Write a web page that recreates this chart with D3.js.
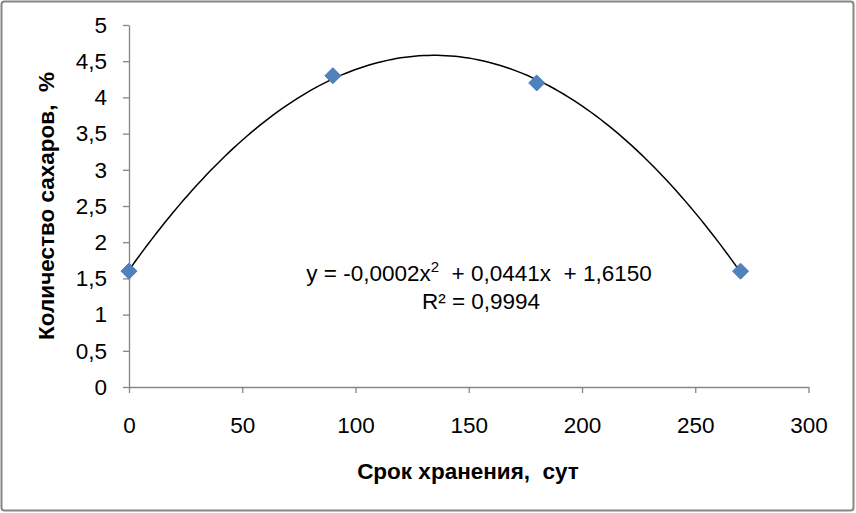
<!DOCTYPE html>
<html>
<head>
<meta charset="utf-8">
<script src="https://cdn.jsdelivr.net/npm/d3@7"></script>
<style>
  body { margin: 0; background: #fff; }
  svg { display: block; font-family: "Liberation Sans", Arial, sans-serif; }
</style>
</head>
<body>
<svg id="chart" width="856" height="513"></svg>
<script>
// storage time, days
var days = [0, 90, 180, 270];
// sugar content, %
var sugars = [1.6, 4.3, 4.2, 1.6];
var xTicks = [0, 50, 100, 150, 200, 250, 300];
var yTicks = [0, 0.5, 1, 1.5, 2, 2.5, 3, 3.5, 4, 4.5, 5];
var eqText = ["y = -0,0002x", "2", "  + 0,0441x  + 1,6150"];
var r2Text = "R\u00b2 = 0,9994";

var svg = d3.select("#chart");
var fmt = function(d) { return String(d).replace(".", ","); };

var x = d3.scaleLinear().domain([0, 300]).range([129, 808.5]);
var y = d3.scaleLinear().domain([0, 5]).range([387, 25]);

// outer frame
svg.append("rect").attr("x", 1.5).attr("y", 1.5).attr("width", 852).attr("height", 509)
  .attr("rx", 3).attr("fill", "#fff").attr("stroke", "#868686").attr("stroke-width", 2);

// axes
var xAxis = svg.append("g").attr("transform", "translate(0," + y(0) + ")")
  .call(d3.axisBottom(x).tickValues(xTicks).tickFormat(fmt).tickSize(6).tickPadding(24).tickSizeOuter(0));
var yAxis = svg.append("g").attr("transform", "translate(" + x(0) + ",0)")
  .call(d3.axisLeft(y).tickValues(yTicks).tickFormat(fmt).tickSize(6).tickPadding(16).tickSizeOuter(0));
[xAxis, yAxis].forEach(function(a) {
  a.select(".domain").attr("stroke", "#868686").attr("stroke-width", 1.3);
  a.selectAll(".tick line").attr("stroke", "#868686").attr("stroke-width", 1.3);
  a.selectAll(".tick text").attr("fill", "#000").style("font-size", "22.5px")
    .style("font-family", "'Liberation Sans', Arial, sans-serif");
});

// least squares quadratic trendline
function polyFit(xs, ys) {
  var n = xs.length, s = [0, 0, 0, 0, 0], t = [0, 0, 0];
  for (var i = 0; i < n; i++) {
    for (var k = 0; k < 5; k++) s[k] += Math.pow(xs[i], k);
    for (var k2 = 0; k2 < 3; k2++) t[k2] += ys[i] * Math.pow(xs[i], k2);
  }
  var m = [[s[0], s[1], s[2], t[0]], [s[1], s[2], s[3], t[1]], [s[2], s[3], s[4], t[2]]];
  for (var c = 0; c < 3; c++) {
    for (var r = c + 1; r < 3; r++) {
      var f = m[r][c] / m[c][c];
      for (var j = c; j < 4; j++) m[r][j] -= f * m[c][j];
    }
  }
  var b = [0, 0, 0];
  for (var r2 = 2; r2 >= 0; r2--) {
    var v = m[r2][3];
    for (var j2 = r2 + 1; j2 < 3; j2++) v -= m[r2][j2] * b[j2];
    b[r2] = v / m[r2][r2];
  }
  return b;
}
var coef = polyFit(days, sugars);
var trend = d3.range(0, 270.5, 2).map(function(d) {
  return [d, coef[0] + coef[1] * d + coef[2] * d * d];
});
svg.append("path").datum(trend)
  .attr("fill", "none").attr("stroke", "#000").attr("stroke-width", 1.5)
  .attr("d", d3.line().x(function(d) { return x(d[0]); }).y(function(d) { return y(d[1]); }));

// markers
svg.selectAll(".pt").data(days).enter().append("path")
  .attr("class", "pt")
  .attr("transform", function(d, i) { return "translate(" + x(d) + "," + y(sugars[i]) + ")"; })
  .attr("d", "M0,-8L8,0L0,8L-8,0Z")
  .attr("fill", "#4F81BD").attr("stroke", "#4A7EBB").attr("stroke-width", 1);

// equation
var eq = svg.append("text").attr("x", 479).attr("y", 281).attr("text-anchor", "middle")
  .attr("xml:space", "preserve").style("white-space", "pre").style("font-size", "22.5px");
eq.append("tspan").text(eqText[0]);
eq.append("tspan").text(eqText[1]).attr("dy", -9).style("font-size", "15px");
eq.append("tspan").text(eqText[2]).attr("dy", 9);
svg.append("text").attr("x", 481).attr("y", 309).attr("text-anchor", "middle")
  .style("font-size", "22.5px").text(r2Text);

// axis titles
svg.append("text").attr("x", 468).attr("y", 479).attr("text-anchor", "middle")
  .style("font-size", "22.5px").style("font-weight", "bold").style("white-space", "pre")
  .text("Срок хранения,  сут");
svg.append("text").attr("transform", "translate(54,206) rotate(-90)").attr("text-anchor", "middle")
  .style("font-size", "22.5px").style("font-weight", "bold").style("white-space", "pre")
  .text("Количество сахаров,  %");
</script>
</body>
</html>
